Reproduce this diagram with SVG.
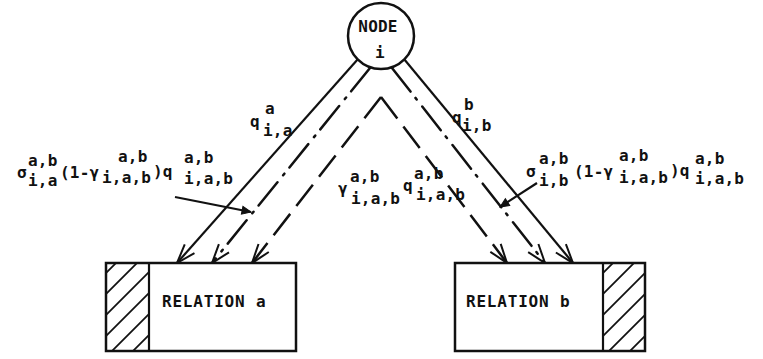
<svg xmlns="http://www.w3.org/2000/svg" width="763" height="359" viewBox="0 0 763 359">
  <style>
    .t { font-family: "DejaVu Sans Mono", "Liberation Mono", monospace; font-size: 16px; font-weight: bold; letter-spacing: 0.2px; fill: #111; }
    .big { letter-spacing: 0.8px; }
    .box { fill: #fff; stroke: #111; stroke-width: 2.5; }
    .div { stroke: #111; stroke-width: 2.2; }
    .hatch { stroke: #111; stroke-width: 1.8; }
    .solid { stroke: #111; stroke-width: 2.2; fill: none; }
    .dashdot { stroke: #111; stroke-width: 2.5; fill: none; stroke-dasharray: 30 8 2 9; stroke-linecap: round; }
    .dashed { stroke: #111; stroke-width: 2.5; fill: none; stroke-dasharray: 27 10; }
    .pointer { stroke: #111; stroke-width: 2.2; fill: none; }
  </style>
  <defs>
    <marker id="open" markerUnits="userSpaceOnUse" markerWidth="24" markerHeight="16" viewBox="-20 -8 22 16" refX="0" refY="0" orient="auto">
      <path d="M-19,-6.5 L0,0 L-19,6.5" fill="none" stroke="#111" stroke-width="2" stroke-dasharray="none"/>
    </marker>
    <marker id="small" markerUnits="userSpaceOnUse" markerWidth="12" markerHeight="10" viewBox="-10 -5 11 10" refX="0" refY="0" orient="auto">
      <path d="M-9,-4 L0,0 L-9,4 Z" fill="#111" stroke="#111" stroke-width="1"/>
    </marker>
    <clipPath id="clipA"><rect x="106" y="263" width="43" height="88"/></clipPath>
    <clipPath id="clipB"><rect x="603" y="263" width="42" height="88"/></clipPath>
  </defs>

  <!-- connectors from the node to the two relations -->
  <g id="connectors">
    <line class="solid" x1="358" y1="59" x2="177" y2="263" marker-end="url(#open)"/>
    <line class="dashdot" x1="370" y1="68" x2="212" y2="263" marker-end="url(#open)"/>
    <line class="dashed" x1="381" y1="97" x2="252" y2="263" marker-end="url(#open)"/>
    <line class="dashed" x1="381" y1="97" x2="507" y2="263" marker-end="url(#open)"/>
    <line class="dashdot" x1="392" y1="68" x2="545" y2="263" marker-end="url(#open)"/>
    <line class="solid" x1="404" y1="59" x2="573" y2="263" marker-end="url(#open)"/>
    <!-- label pointers -->
    <line class="pointer" x1="175" y1="197" x2="251" y2="212" marker-end="url(#small)"/>
    <line class="pointer" x1="537" y1="183" x2="500" y2="207" marker-end="url(#small)"/>
  </g>

  <g id="node-i">
    <circle cx="381" cy="36" r="33" fill="#fff" stroke="#111" stroke-width="2.5"/>
    <text class="t" x="378" y="32" text-anchor="middle">NODE</text>
    <text class="t" x="380" y="58" text-anchor="middle">i</text>
  </g>

  <g id="relation-a">
    <rect class="box" x="106" y="263" width="190" height="88"/>
    <g clip-path="url(#clipA)" class="hatch">
      <line x1="100" y1="279" x2="160" y2="219"/>
      <line x1="100" y1="300" x2="160" y2="240"/>
      <line x1="100" y1="321" x2="160" y2="261"/>
      <line x1="100" y1="342" x2="160" y2="282"/>
      <line x1="100" y1="363" x2="160" y2="303"/>
      <line x1="100" y1="384" x2="160" y2="324"/>
      <line x1="100" y1="405" x2="160" y2="345"/>
    </g>
    <line class="div" x1="149" y1="263" x2="149" y2="351"/>
    <text class="t big" x="162" y="307">RELATION a</text>
  </g>

  <g id="relation-b">
    <rect class="box" x="455" y="263" width="190" height="88"/>
    <g clip-path="url(#clipB)" class="hatch">
      <line x1="597" y1="279" x2="657" y2="219"/>
      <line x1="597" y1="300" x2="657" y2="240"/>
      <line x1="597" y1="321" x2="657" y2="261"/>
      <line x1="597" y1="342" x2="657" y2="282"/>
      <line x1="597" y1="363" x2="657" y2="303"/>
      <line x1="597" y1="384" x2="657" y2="324"/>
      <line x1="597" y1="405" x2="657" y2="345"/>
    </g>
    <line class="div" x1="603" y1="263" x2="603" y2="351"/>
    <text class="t big" x="466" y="307">RELATION b</text>
  </g>

  <!-- flow labels -->
  <g id="label-q-a">
    <text class="t"><tspan x="250" y="127">q</tspan><tspan x="265" y="114">a</tspan><tspan x="263" y="136">i,a</tspan></text>
  </g>
  <g id="label-q-b">
    <text class="t"><tspan x="452" y="123">q</tspan><tspan x="464" y="110">b</tspan><tspan x="462" y="131">i,b</tspan></text>
  </g>
  <g id="label-sigma-a">
    <text class="t"><tspan x="17" y="178">σ</tspan><tspan x="28" y="166">a,b</tspan><tspan x="28" y="186">i,a</tspan><tspan x="60" y="178">(1-γ</tspan><tspan x="118" y="162">a,b</tspan><tspan x="102" y="183">i,a,b</tspan><tspan x="153" y="177">)q</tspan><tspan x="184" y="163">a,b</tspan><tspan x="184" y="184">i,a,b</tspan></text>
  </g>
  <g id="label-gamma">
    <text class="t"><tspan x="338" y="194">γ</tspan><tspan x="350" y="182">a,b</tspan><tspan x="351" y="204">i,a,b</tspan><tspan x="403" y="191">q</tspan><tspan x="414" y="179">a,b</tspan><tspan x="416" y="200">i,a,b</tspan></text>
  </g>
  <g id="label-sigma-b">
    <text class="t"><tspan x="526" y="177">σ</tspan><tspan x="539" y="164">a,b</tspan><tspan x="539" y="186">i,b</tspan><tspan x="574" y="177">(1-γ</tspan><tspan x="619" y="161">a,b</tspan><tspan x="619" y="183">i,a,b</tspan><tspan x="670" y="176">)q</tspan><tspan x="695" y="164">a,b</tspan><tspan x="695" y="184">i,a,b</tspan></text>
  </g>
</svg>
